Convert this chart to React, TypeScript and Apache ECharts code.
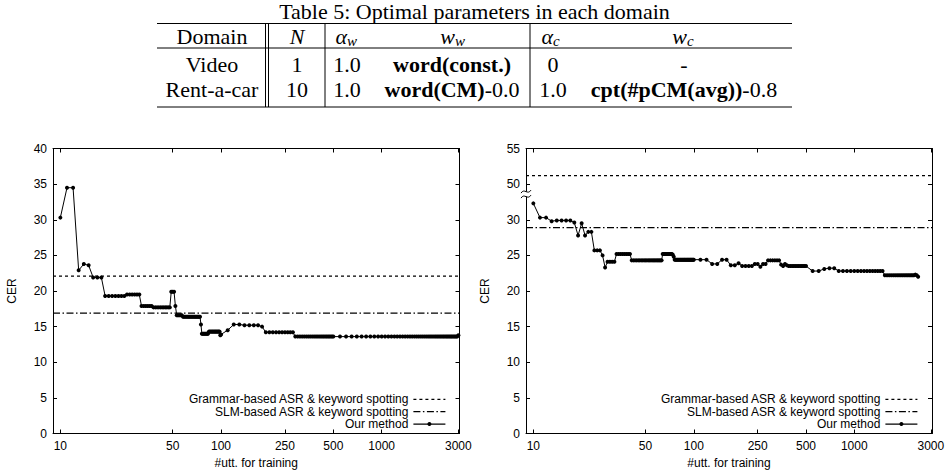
import React, { useEffect, useRef } from 'react';
import * as echarts from 'echarts';

const SANS = '"Liberation Sans", Arial, Helvetica, sans-serif';
const SERIF = '"Liberation Serif", "Times New Roman", Times, serif';

// ---------------- table contents ----------------
const TABLE_CAPTION = 'Table 5: Optimal parameters in each domain';
const tableDomains = ['Video', 'Rent-a-car'];
const tableN = ['1', '10'];
const tableAlphaW = ['1.0', '1.0'];
const tableWwBold = ['word(const.)', 'word(CM)'];
const tableWwRest = ['', '-0.0'];
const tableAlphaC = ['0', '1.0'];
const tableWcBold = ['', 'cpt(#pCM(avg))'];
const tableWcRest = ['-', '-0.8'];

// ---------------- chart data ----------------
const seriesNames = [
  'Grammar-based ASR & keyword spotting',
  'SLM-based ASR & keyword spotting',
  'Our method',
];
const xTickValues = [10, 50, 100, 250, 500, 1000, 3000];
const xRange = [9, 3050];
const yTicksMax = 40;
const grammarCER = [22.1, 51.2]; // left chart, right chart
const slmCER = [16.9, 28.9];

// #utt. for training
const xFine = [
  10, 11, 12, 13, 14, 15, 16, 17, 18, 19,
  20, 21, 22, 23, 24, 25, 26, 27, 28, 29,
  30, 31, 32, 33, 34, 35, 36, 37, 38, 39,
  40, 41, 42, 43, 44, 45, 46, 47, 48, 49,
  50, 51, 52, 53, 54, 55, 56, 57, 58, 59,
  60, 61, 62, 63, 64, 65, 66, 67, 68, 69,
  70, 71, 72, 73, 74, 75, 76, 77, 78, 79,
  80, 81, 82, 83, 84, 85, 86, 87, 88, 89,
  90, 91, 92, 93, 94, 95, 96, 97, 98, 99,
  100,
];
const xMid = [
  110, 120, 130, 140, 150, 160, 170, 180, 190, 200,
  210, 220, 230, 240, 250, 260, 270, 280, 290, 300,
  310, 320, 330, 340, 350, 360, 370, 380, 390, 400,
  410, 420, 430, 440, 450, 460, 470, 480, 490, 500,
];
const xCoarseLeft = [
  550, 600, 650, 700, 750, 800, 850, 900, 950, 1000,
  1050, 1100, 1150, 1200, 1250, 1300, 1350, 1400, 1450, 1500,
  1550, 1600, 1650, 1700, 1750, 1800, 1850, 1900, 1950, 2000,
  2050, 2100, 2150, 2200, 2250, 2300, 2350, 2400, 2450, 2500,
  2550, 2600, 2650, 2700, 2750, 2800, 2850, 2900, 2950, 3000,
];
const xCoarseRight = [
  550, 600, 650, 700, 750, 800, 850, 900, 950, 1000,
  1050, 1100, 1150, 1200, 1250, 1300, 1350, 1400, 1450, 1500,
  1550, 1600, 1650, 1700, 1750, 1800, 1850, 1900, 1950, 2000,
  2050, 2100, 2150, 2200, 2250, 2300, 2350, 2400, 2450, 2500,
];

// CER, left chart
const cerLeftFine = [
  30.3, 34.5, 34.5, 22.9, 23.8, 23.6, 21.9, 21.9, 21.9, 19.3,
  19.3, 19.3, 19.3, 19.3, 19.3, 19.3, 19.5, 19.5, 19.5, 19.5,
  19.5, 19.5, 17.9, 17.9, 17.9, 17.9, 17.9, 17.9, 17.7, 17.7,
  17.7, 17.7, 17.7, 17.7, 17.7, 17.7, 17.7, 17.7, 17.7, 19.9,
  19.9, 19.9, 17.9, 16.6, 16.6, 16.6, 16.6, 16.6, 16.4, 16.4,
  16.4, 16.4, 16.4, 16.4, 16.4, 16.4, 16.4, 16.4, 16.4, 16.4,
  16.4, 16.4, 16.4, 16.4, 16.4, 15.3, 14.0, 14.0, 14.0, 14.0,
  14.0, 14.0, 14.0, 14.0, 14.3, 14.3, 14.3, 14.3, 14.3, 14.3,
  14.3, 14.3, 14.3, 14.3, 14.3, 14.3, 14.3, 14.3, 14.3, 13.8,
  13.9,
];
const cerLeftMid = [
  14.5, 15.3, 15.3, 15.2, 15.2, 15.2, 15.2, 15.0, 14.2, 14.2,
  14.2, 14.2, 14.2, 14.2, 14.2, 14.2, 14.2, 14.2, 13.6, 13.6,
  13.6, 13.6, 13.6, 13.6, 13.6, 13.6, 13.6, 13.6, 13.6, 13.6,
  13.6, 13.6, 13.6, 13.6, 13.6, 13.6, 13.6, 13.6, 13.6, 13.6,
];
const cerLeftCoarse = [
  13.6, 13.6, 13.6, 13.6, 13.6, 13.6, 13.6, 13.6, 13.6, 13.6,
  13.6, 13.6, 13.6, 13.6, 13.6, 13.6, 13.6, 13.6, 13.6, 13.6,
  13.6, 13.6, 13.6, 13.6, 13.6, 13.6, 13.6, 13.6, 13.6, 13.6,
  13.6, 13.6, 13.6, 13.6, 13.6, 13.6, 13.6, 13.6, 13.6, 13.6,
  13.6, 13.6, 13.6, 13.6, 13.6, 13.6, 13.6, 13.6, 13.6, 13.8,
];

// CER, right chart
const cerRightFine = [
  32.3, 30.3, 30.3, 29.8, 29.9, 29.9, 29.9, 29.9, 29.6, 27.8,
  29.5, 27.8, 28.3, 28.3, 25.7, 25.7, 25.7, 25.0, 23.3, 24.1,
  24.1, 24.1, 24.1, 25.2, 25.2, 25.2, 25.2, 25.2, 25.2, 25.2,
  25.2, 24.3, 24.3, 24.3, 24.3, 24.3, 24.3, 24.3, 24.3, 24.3,
  24.3, 24.3, 24.3, 24.3, 24.3, 24.3, 24.3, 24.3, 24.3, 24.3,
  24.3, 24.3, 24.3, 24.3, 25.2, 25.2, 25.2, 25.2, 25.2, 25.2,
  25.2, 25.2, 25.2, 25.2, 25.1, 24.8, 24.4, 24.4, 24.4, 24.4,
  24.4, 24.4, 24.4, 24.4, 24.4, 24.4, 24.4, 24.4, 24.4, 24.4,
  24.4, 24.4, 24.4, 24.4, 24.4, 24.4, 24.4, 24.4, 24.4, 24.4,
  24.4,
];
const cerRightMid = [
  24.4, 24.4, 23.8, 23.8, 24.4, 24.4, 23.6, 23.6, 23.9, 23.5,
  23.5, 23.5, 23.5, 23.8, 23.8, 23.4, 23.8, 23.8, 24.3, 24.3,
  24.3, 24.3, 24.3, 24.3, 23.7, 23.5, 23.8, 23.6, 23.5, 23.5,
  23.5, 23.5, 23.5, 23.5, 23.5, 23.5, 23.5, 23.5, 23.5, 23.5,
];
const cerRightCoarse = [
  22.8, 22.8, 23.1, 23.2, 23.2, 22.8, 22.8, 22.8, 22.8, 22.8,
  22.8, 22.8, 22.8, 22.8, 22.8, 22.8, 22.8, 22.8, 22.8, 22.8,
  22.2, 22.2, 22.2, 22.2, 22.2, 22.2, 22.2, 22.2, 22.2, 22.2,
  22.2, 22.2, 22.2, 22.2, 22.2, 22.2, 22.2, 22.3, 22.2, 22.0,
];

// broken y axis of the right chart: 50..55 drawn where 35..40 would be
const BREAK_SHIFT = 15;
const BREAK_AT = 33.6;

const lg = (v: number) => Math.log10(v);
const brk = (v: number) => (v > 40 ? v - BREAK_SHIFT : v);

const BLACK = '#000';
const axisLineStyle = { color: BLACK, width: 1 };
const tickFont = { color: BLACK, fontSize: 12, fontFamily: SANS };

function makeXAxes(gi: number) {
  const base = {
    type: 'value',
    gridIndex: gi,
    min: lg(xRange[0]),
    max: lg(xRange[1]),
    splitLine: { show: false },
    axisLine: { show: true, onZero: false, lineStyle: axisLineStyle },
    axisTick: {
      show: true,
      inside: true,
      length: 4,
      customValues: xTickValues.map(lg),
      lineStyle: axisLineStyle,
    },
  };
  return [
    {
      ...base,
      position: 'bottom',
      axisLabel: {
        show: true,
        customValues: xTickValues.map(lg),
        formatter: (v: number) => String(Math.round(Math.pow(10, v))),
        margin: 6,
        ...tickFont,
      },
      name: '#utt. for training',
      nameLocation: 'middle',
      nameGap: 23,
      nameTextStyle: { ...tickFont },
    },
    { ...base, position: 'top', axisLabel: { show: false } },
  ];
}

function makeYAxes(gi: number, formatter: (v: number) => string) {
  const base = {
    type: 'value',
    gridIndex: gi,
    min: 0,
    max: yTicksMax,
    interval: 5,
    splitLine: { show: false },
    axisLine: { show: true, onZero: false, lineStyle: axisLineStyle },
    axisTick: { show: true, inside: true, length: 4, lineStyle: axisLineStyle },
  };
  return [
    {
      ...base,
      position: 'left',
      axisLabel: { show: true, formatter, margin: 6, ...tickFont },
      name: 'CER',
      nameLocation: 'middle',
      nameRotate: 90,
      nameGap: 35,
      nameTextStyle: { ...tickFont },
    },
    { ...base, position: 'right', axisLabel: { show: false } },
  ];
}

function makeSeries(gi: number, xs: number[], ys: number[], gram: number, slm: number) {
  const axes = { xAxisIndex: gi * 2, yAxisIndex: gi * 2 };
  const ends = [lg(xRange[0]), lg(xRange[1])];
  return [
    {
      type: 'line',
      name: seriesNames[0],
      ...axes,
      data: ends.map((x) => [x, gram]),
      symbol: 'none',
      lineStyle: { color: BLACK, width: 1.2, type: [3, 3] },
      itemStyle: { color: BLACK },
      silent: true,
    },
    {
      type: 'line',
      name: seriesNames[1],
      ...axes,
      data: ends.map((x) => [x, slm]),
      symbol: 'none',
      lineStyle: { color: BLACK, width: 1.2, type: [7, 2.5, 1.5, 2.5] },
      itemStyle: { color: BLACK },
      silent: true,
    },
    {
      type: 'line',
      name: seriesNames[2],
      ...axes,
      data: xs.map((x, i) => [lg(x), ys[i]]),
      symbol: 'circle',
      symbolSize: 4,
      showSymbol: true,
      lineStyle: { color: BLACK, width: 1 },
      itemStyle: { color: BLACK, borderWidth: 0 },
      silent: true,
    },
  ];
}

function makeLegend(right: number) {
  return {
    data: [
      { name: seriesNames[0], itemStyle: { opacity: 0 } },
      { name: seriesNames[1], itemStyle: { opacity: 0 } },
      { name: seriesNames[2] },
    ],
    orient: 'vertical',
    align: 'right',
    right,
    top: 393.3,
    itemWidth: 32,
    itemHeight: 5,
    itemGap: 0.4,
    padding: 0,
    selectedMode: false,
    lineStyle: { width: 1.2 },
    itemStyle: { borderWidth: 0 },
    textStyle: { color: BLACK, fontSize: 12, fontFamily: SANS, lineHeight: 12 },
  };
}

function buildOption() {
  const leftX = [...xFine, ...xMid, ...xCoarseLeft];
  const leftY = [...cerLeftFine, ...cerLeftMid, ...cerLeftCoarse];
  const rightX = [...xFine, ...xMid, ...xCoarseRight];
  const rightY = [...cerRightFine, ...cerRightMid, ...cerRightCoarse].map(brk);
  return {
    animation: false,
    backgroundColor: '#fff',
    textStyle: { fontFamily: SANS },
    grid: [
      { left: 53, top: 148.5, width: 406.5, height: 285, outerBoundsMode: 'none', containLabel: false },
      { left: 526, top: 148.5, width: 406, height: 285, outerBoundsMode: 'none', containLabel: false },
    ],
    xAxis: [...makeXAxes(0), ...makeXAxes(1)],
    yAxis: [
      ...makeYAxes(0, (v: number) => String(v)),
      ...makeYAxes(1, (v: number) => String(v > 30 ? v + BREAK_SHIFT : v)),
    ],
    legend: [makeLegend(950 - 446), makeLegend(950 - 918)],
    series: [
      ...makeSeries(0, leftX, leftY, grammarCER[0], slmCER[0]),
      ...makeSeries(1, rightX, rightY, brk(grammarCER[1]), brk(slmCER[1])),
    ],
  };
}

// ---------------- table drawing (graphic) ----------------
const TF = 22; // table font size
const T = {
  x0: 157,
  x1: 792,
  yTop: 23.5,
  yMid: 48,
  yBot: 107,
  vLines: [265.5, 268.5, 325, 530],
};
const COL = { domain: 212, n: 297, aw: 347, ww: 452, ac: 553, wc: 684 };
const ROW = { caption: 11, header: 36, rows: [64, 89.5] };

function txt(x: number, y: number, text: string, extra: any = {}) {
  return {
    type: 'text',
    x,
    y,
    style: {
      text,
      fill: BLACK,
      fontFamily: SERIF,
      fontSize: TF,
      lineHeight: 20,
      align: 'center',
      textAlign: 'center',
      verticalAlign: 'middle',
      textVerticalAlign: 'middle',
      ...extra,
    },
  };
}

function richTxt(x: number, y: number, bold: string, rest: string) {
  const text = bold ? `{b|${bold}}${rest}` : rest;
  return txt(x, y, text, {
    rich: { b: { fontWeight: 'bold', fontFamily: SERIF, fontSize: TF, lineHeight: 20, fill: BLACK } },
  });
}

function mathSym(cx: number, cy: number, main: string, sub: string) {
  const out: any[] = [
    txt(cx + 2, cy, main, { fontStyle: 'italic', align: 'right', textAlign: 'right' }),
  ];
  if (sub) {
    out.push(
      txt(cx + 2, cy + 5, sub, { fontStyle: 'italic', fontSize: 15, lineHeight: 15, align: 'left', textAlign: 'left' })
    );
  }
  return out;
}

function line(x1: number, y1: number, x2: number, y2: number) {
  return {
    type: 'line',
    shape: { x1, y1, x2, y2 },
    style: { stroke: BLACK, lineWidth: 1 },
  };
}

function tableGraphics() {
  const g: any[] = [];
  g.push(txt((T.x0 + T.x1) / 2, ROW.caption, TABLE_CAPTION));
  g.push(line(T.x0, T.yTop, T.x1, T.yTop));
  g.push(line(T.x0, T.yMid, T.x1, T.yMid));
  g.push(line(T.x0, T.yBot, T.x1, T.yBot));
  T.vLines.forEach((x) => g.push(line(x, T.yTop, x, T.yBot)));
  g.push(txt(COL.domain, ROW.header, 'Domain'));
  g.push(txt(COL.n, ROW.header, 'N', { fontStyle: 'italic' }));
  g.push(...mathSym(COL.aw - 2, ROW.header, 'α', 'w'));
  g.push(...mathSym(COL.ww + 1, ROW.header, 'w', 'w'));
  g.push(...mathSym(COL.ac - 2, ROW.header, 'α', 'c'));
  g.push(...mathSym(COL.wc + 1, ROW.header, 'w', 'c'));
  tableDomains.forEach((d, i) => {
    const y = ROW.rows[i];
    g.push(txt(COL.domain, y, d));
    g.push(txt(COL.n, y, tableN[i]));
    g.push(txt(COL.aw, y, tableAlphaW[i]));
    g.push(richTxt(COL.ww, y, tableWwBold[i], tableWwRest[i]));
    g.push(txt(COL.ac, y, tableAlphaC[i]));
    g.push(richTxt(COL.wc, y, tableWcBold[i], tableWcRest[i]));
  });
  return g;
}

function breakGraphics(cx: number, cy: number) {
  const tilde = (y0: number) => ({
    type: 'bezierCurve',
    z: 100,
    shape: { x1: cx - 5, y1: y0 + 1.5, cpx1: cx - 1.5, cpy1: y0 - 4, cpx2: cx + 1.5, cpy2: y0 + 4, x2: cx + 5, y2: y0 - 1.5 },
    style: { stroke: BLACK, lineWidth: 1, fill: null },
  });
  return [
    {
      type: 'rect',
      z: 99,
      shape: { x: cx - 3, y: cy - 2.5, width: 6, height: 5 },
      style: { fill: '#fff', stroke: null },
    },
    tilde(cy - 2.5),
    tilde(cy + 2.5),
  ];
}

export default function App() {
  const ref = useRef<HTMLDivElement>(null);
  useEffect(() => {
    const el = ref.current;
    if (!el) return;
    const chart = echarts.init(el, null, { renderer: 'svg', width: 950, height: 472 });
    chart.setOption(buildOption() as any);
    const p = chart.convertToPixel({ xAxisIndex: 2, yAxisIndex: 2 } as any, [lg(xRange[0]), BREAK_AT]) as number[];
    chart.setOption({ graphic: [...tableGraphics(), ...breakGraphics(p[0], p[1])] } as any);
    return () => chart.dispose();
  }, []);
  return (
    <div
      ref={ref}
      style={{ position: 'absolute', left: 0, top: 0, width: 950, height: 472, background: '#fff' }}
    />
  );
}
